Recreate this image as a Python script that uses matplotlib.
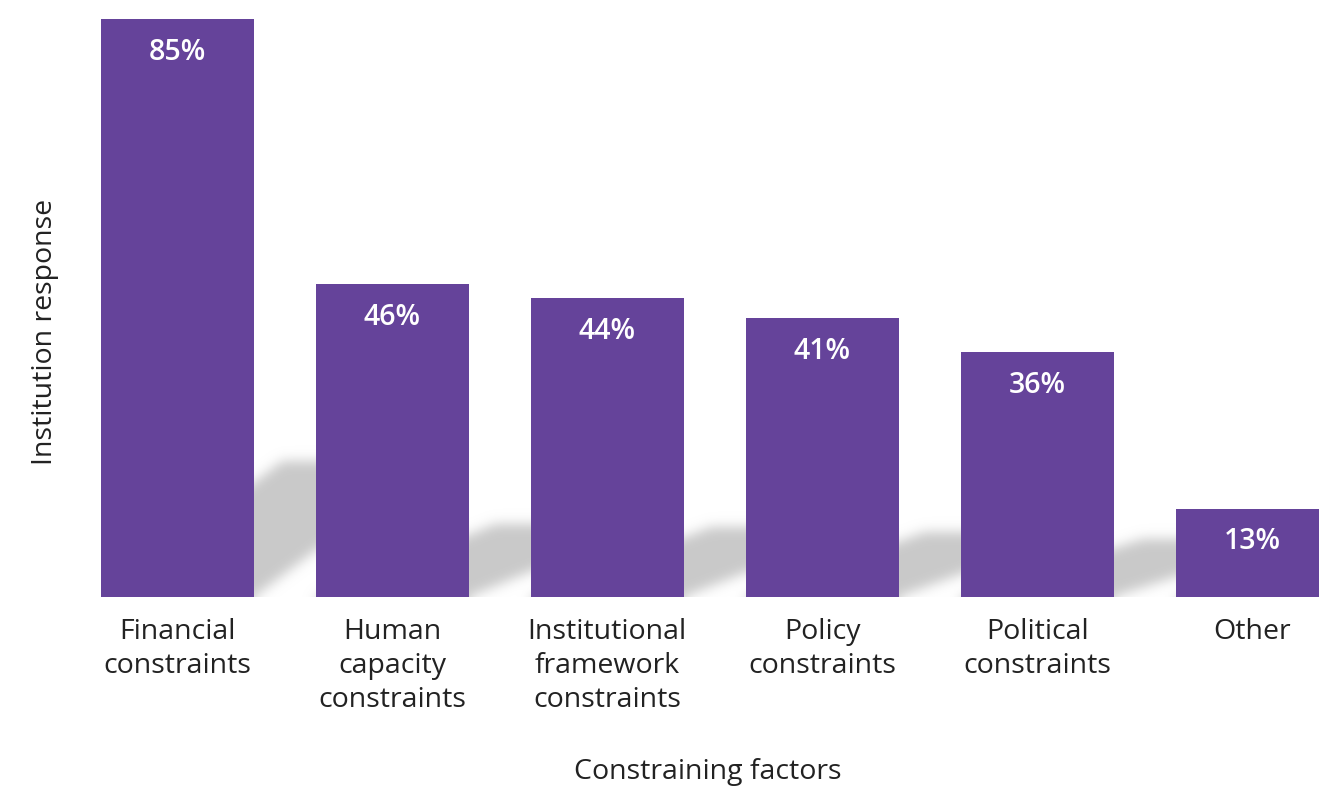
import numpy as np
import matplotlib
matplotlib.use("Agg")
import matplotlib.pyplot as plt
from matplotlib.path import Path

categories = ["Financial\nconstraints", "Human\ncapacity\nconstraints",
              "Institutional\nframework\nconstraints", "Policy\nconstraints",
              "Political\nconstraints", "Other"]
values = [85, 46, 44, 41, 36, 13]

purple = "#65439a"
text_col = "#222222"
plt.rcParams["font.family"] = ["Open Sans", "DejaVu Sans"]

W, H = 1319, 787
fig = plt.figure(figsize=(W / 100, H / 100), dpi=100)
ax = fig.add_axes([101 / W, (H - 597) / H, 1218 / W, 597 / H])

x = np.arange(len(values))
width = 0.71
ax.set_xlim(-width / 2, -width / 2 + 1218 / 215)
ax.set_ylim(0, 597 / 6.8)

# soft floor shadow: each bar throws a skewed parallelogram up and to the right
shear = 0.84      # horizontal shift of the shadow top (bar units)
depth = 0.235     # shadow height as a fraction of bar height
gx = np.linspace(-0.6, 7.0, 1640)
gy = np.linspace(-6, 30, 245)
GX, GY = np.meshgrid(gx, gy)
pts = np.column_stack([GX.ravel(), GY.ravel()])
mask = np.zeros(GX.size)
for xi, v in zip(x, values):
    l, r, h = xi - width / 2, xi + width / 2, v * depth
    poly = Path([(l, -6), (r, -6), (r, 0), (r + shear, h), (l + shear, h), (l, 0)])
    mask = np.maximum(mask, poly.contains_points(pts))
mask = mask.reshape(GX.shape)

def blur(a, sigma, axis):
    k = np.arange(-3 * sigma, 3 * sigma + 1)
    k = np.exp(-k ** 2 / (2 * sigma ** 2))
    k /= k.sum()
    return np.apply_along_axis(lambda m: np.convolve(m, k, mode="same"), axis, a)

mask = blur(blur(mask, 6, 1), 6, 0)
rgba = np.zeros(mask.shape + (4,))
rgba[..., :3] = 0.79
rgba[..., 3] = mask
ax.imshow(rgba, extent=(gx[0], gx[-1], gy[0], gy[-1]), origin="lower",
          aspect="auto", interpolation="bilinear", zorder=1)

bars = ax.bar(x, values, width, color=purple, zorder=2)
for b, v in zip(bars, values):
    ax.annotate(f"{v}%", (b.get_x() + b.get_width() / 2, v), xytext=(0, -24),
                textcoords="offset points", ha="center", va="center",
                color="white", fontsize=20.5, fontweight="semibold", zorder=3)

ax.set_xticks(x)
ax.set_xticklabels(categories, fontsize=20.5, color=text_col, linespacing=1.28)
ax.tick_params(axis="x", length=0, pad=15)
ax.set_yticks([])
for s in ax.spines.values():
    s.set_visible(False)

fig.text(708 / W, 1 - 772 / H, "Constraining factors", ha="center", va="center",
         fontsize=20.5, color=text_col)
fig.text(45 / W, 1 - 332 / H, "Institution response", ha="center", va="center",
         rotation=90, fontsize=20.5, color=text_col)

fig.savefig("out.png", dpi=100)
